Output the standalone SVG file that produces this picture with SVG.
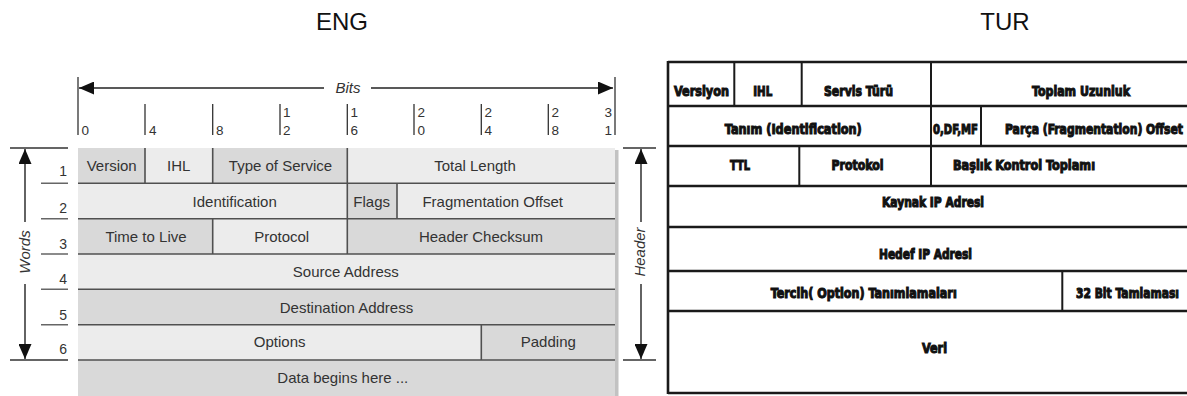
<svg xmlns="http://www.w3.org/2000/svg" width="1187" height="396" viewBox="0 0 1187 396">
  <defs>
    <style>
      .title { font-family: "Liberation Sans", Arial, sans-serif; font-size: 24px; fill: #111; text-anchor: middle; }
      .cell-dark { fill: #d9d9d9; }
      .cell-light { fill: #ececec; }
      .lbl { font-family: "Liberation Sans", Arial, sans-serif; font-size: 15px; fill: #333; text-anchor: middle; }
      .bit { font-family: "Liberation Sans", Arial, sans-serif; font-size: 13.5px; fill: #333; }
      .num { font-family: "Liberation Sans", Arial, sans-serif; font-size: 14px; fill: #333; text-anchor: end; }
      .axis { font-family: "Liberation Sans", Arial, sans-serif; font-size: 15px; font-style: italic; fill: #333; text-anchor: middle; }
      .sep { stroke: #505050; stroke-width: 1.6; fill: none; }
      .tick { stroke: #333; stroke-width: 1.3; fill: none; }
      .guide { stroke: #666; stroke-width: 1.4; fill: none; }
      .arrow { stroke: #222; stroke-width: 1.4; fill: none; marker-end: url(#head); }
      .tr { font-family: "DejaVu Sans Condensed", "DejaVu Sans", sans-serif; font-stretch: condensed; font-weight: bold; font-size: 11px; fill: #111; stroke: #111; stroke-width: 0.8; text-anchor: middle; }
      .tline { stroke: #1a1a1a; stroke-width: 2.6; fill: none; }
      .tdiv { stroke: #1a1a1a; stroke-width: 2; fill: none; }
    </style>
    <marker id="head" markerUnits="userSpaceOnUse" markerWidth="16" markerHeight="13" refX="15" refY="6.5" orient="auto">
      <path d="M0,0 L15,6.5 L0,13 Z" fill="#111"/>
    </marker>
  </defs>

  <rect width="1187" height="396" fill="#fff"/>

  <text class="title" x="342" y="30">ENG</text>
  <text class="title" x="1005" y="30">TUR</text>

  <!-- English IPv4 header layout -->
  <g id="eng-table">
    <!-- right-hand drop shadow -->
    <rect x="615" y="150" width="3.5" height="246" fill="#c2c2c2"/>

    <g id="eng-version"><rect class="cell-dark" x="78" y="148" width="67" height="35.3"/><text class="lbl" x="111.7" y="171">Version</text></g>
    <g id="eng-ihl"><rect class="cell-light" x="145" y="148" width="67.7" height="35.3"/><text class="lbl" x="178.7" y="171">IHL</text></g>
    <g id="eng-tos"><rect class="cell-dark" x="212.7" y="148" width="134.6" height="35.3"/><text class="lbl" x="280.5" y="171">Type of Service</text></g>
    <g id="eng-total-length"><rect class="cell-light" x="347.3" y="148" width="267.7" height="35.3"/><text class="lbl" x="475" y="171">Total Length</text></g>

    <g id="eng-identification"><rect class="cell-light" x="78" y="183.3" width="269.3" height="35.4"/><text class="lbl" x="234.7" y="206.5">Identification</text></g>
    <g id="eng-flags"><rect class="cell-dark" x="347.3" y="183.3" width="49.7" height="35.4"/><text class="lbl" x="371.7" y="206.5">Flags</text></g>
    <g id="eng-frag-offset"><rect class="cell-light" x="397" y="183.3" width="218" height="35.4"/><text class="lbl" x="492.7" y="206.5">Fragmentation Offset</text></g>

    <g id="eng-ttl"><rect class="cell-dark" x="78" y="218.7" width="134.7" height="35.3"/><text class="lbl" x="146" y="241.8">Time to Live</text></g>
    <g id="eng-protocol"><rect class="cell-light" x="212.7" y="218.7" width="134.6" height="35.3"/><text class="lbl" x="281.7" y="241.8">Protocol</text></g>
    <g id="eng-checksum"><rect class="cell-dark" x="347.3" y="218.7" width="267.7" height="35.3"/><text class="lbl" x="481" y="241.8">Header Checksum</text></g>

    <g id="eng-source"><rect class="cell-light" x="78" y="254" width="537" height="35.3"/><text class="lbl" x="345.8" y="277.3">Source Address</text></g>
    <g id="eng-destination"><rect class="cell-dark" x="78" y="289.3" width="537" height="35.4"/><text class="lbl" x="346.5" y="312.7">Destination Address</text></g>

    <g id="eng-options"><rect class="cell-light" x="78" y="324.7" width="403.3" height="35.3"/><text class="lbl" x="279.7" y="347">Options</text></g>
    <g id="eng-padding"><rect class="cell-dark" x="481.3" y="324.7" width="133.7" height="35.3"/><text class="lbl" x="548.3" y="347">Padding</text></g>

    <g id="eng-data"><rect class="cell-dark" x="78" y="360" width="537" height="36"/><text class="lbl" x="342.8" y="383">Data begins here ...</text></g>

    <!-- row separators and field dividers -->
    <g id="eng-grid">
      <path class="sep" d="M78,183.3H615 M78,218.7H615 M78,254H615 M78,289.3H615 M78,324.7H615 M78,360H615"/>
      <path class="sep" d="M145,148V183.3 M212.7,148V183.3 M347.3,148V183.3 M347.3,183.3V218.7 M397,183.3V218.7 M212.7,218.7V254 M347.3,218.7V254 M481.3,324.7V360"/>
    </g>

    <!-- bit scale -->
    <g id="eng-bit-scale">
      <path class="tick" d="M78,77V135 M615,77V135 M145,104V135 M212.7,104V135 M280,104V135 M347.3,104V135 M414,104V135 M481.3,104V135 M548.3,104V135"/>
      <text class="bit" x="81.5" y="135">0</text>
      <text class="bit" x="149" y="135">4</text>
      <text class="bit" x="216" y="135">8</text>
      <text class="bit" x="283" y="117">1</text><text class="bit" x="283" y="135">2</text>
      <text class="bit" x="350.5" y="117">1</text><text class="bit" x="350.5" y="135">6</text>
      <text class="bit" x="417.5" y="117">2</text><text class="bit" x="417.5" y="135">0</text>
      <text class="bit" x="484.5" y="117">2</text><text class="bit" x="484.5" y="135">4</text>
      <text class="bit" x="551.5" y="117">2</text><text class="bit" x="551.5" y="135">8</text>
      <text class="bit" x="612" y="117" text-anchor="end">3</text><text class="bit" x="612" y="135" text-anchor="end">1</text>
    </g>

    <!-- word numbering on the left -->
    <g id="eng-word-scale">
      <path class="tick" d="M10,148H68 M10,360H68"/>
      <path class="guide" d="M41,183.3H68 M41,218.7H68 M41,254H68 M41,289.3H68 M41,324.7H68"/>
      <text class="num" x="67" y="176">1</text>
      <text class="num" x="67" y="212.5">2</text>
      <text class="num" x="67" y="248.5">3</text>
      <text class="num" x="67" y="284">4</text>
      <text class="num" x="67" y="319.5">5</text>
      <text class="num" x="67" y="354">6</text>
    </g>

    <!-- header extent markers on the right -->
    <path class="tick" d="M623,148H656 M623,360H656"/>

    <text class="axis" x="348" y="93">Bits</text>
    <text class="axis" transform="translate(30,252) rotate(-90)">Words</text>
    <text class="axis" transform="translate(645,252) rotate(-90)">Header</text>
  </g>

  <!-- dimension arrows -->
  <g id="connectors">
    <line class="arrow" x1="324" y1="88" x2="79" y2="88"/>
    <line class="arrow" x1="371" y1="88" x2="613" y2="88"/>
    <line class="arrow" x1="25" y1="222" x2="25" y2="149"/>
    <line class="arrow" x1="25" y1="284" x2="25" y2="359"/>
    <line class="arrow" x1="641" y1="222" x2="641" y2="149"/>
    <line class="arrow" x1="641" y1="284" x2="641" y2="359"/>
  </g>

  <!-- Turkish IPv4 header layout -->
  <g id="tur-table">
    <rect x="668" y="62" width="530" height="331" fill="#fff"/>
    <g id="tur-grid">
      <path class="tline" d="M668,62H1190 M668,106H1190 M668,146H1190 M668,186H1190 M668,227H1190 M668,271H1190 M668,311H1190 M668,393H1190 M668,61V394"/>
      <path class="tdiv" d="M734.3,62V106 M801.7,62V106 M931,62V106 M931,106V146 M981,106V146 M799.3,146V186 M931,146V187 M1062.3,271V311"/>
    </g>

    <!-- tall condensed lettering: small font stretched vertically -->
    <g id="tur-versiyon"><text class="tr" transform="translate(701.5,96) scale(1,1.35)" textLength="55" lengthAdjust="spacingAndGlyphs">Versiyon</text></g>
    <g id="tur-ihl"><text class="tr" transform="translate(762.7,96) scale(1,1.35)" textLength="19" lengthAdjust="spacingAndGlyphs">IHL</text></g>
    <g id="tur-servis"><text class="tr" transform="translate(858.5,96) scale(1,1.35)" textLength="69" lengthAdjust="spacingAndGlyphs">Servis Türü</text></g>
    <g id="tur-toplam"><text class="tr" transform="translate(1081,96) scale(1,1.35)" textLength="98" lengthAdjust="spacingAndGlyphs">Toplam Uzunluk</text></g>

    <g id="tur-tanim"><text class="tr" transform="translate(793.3,133.5) scale(1,1.35)" textLength="137" lengthAdjust="spacingAndGlyphs">Tanım (Identification)</text></g>
    <g id="tur-flags"><text class="tr" transform="translate(955.5,133.5) scale(1,1.35)" textLength="45" lengthAdjust="spacingAndGlyphs">0,DF,MF</text></g>
    <g id="tur-parca"><text class="tr" transform="translate(1094,133.5) scale(1,1.35)" textLength="178" lengthAdjust="spacingAndGlyphs">Parça (Fragmentation) Offset</text></g>

    <g id="tur-ttl"><text class="tr" transform="translate(740,170) scale(1,1.35)" textLength="20" lengthAdjust="spacingAndGlyphs">TTL</text></g>
    <g id="tur-protokol"><text class="tr" transform="translate(857.5,170) scale(1,1.35)" textLength="52" lengthAdjust="spacingAndGlyphs">Protokol</text></g>
    <g id="tur-baslik"><text class="tr" transform="translate(1024,170) scale(1,1.35)" textLength="142" lengthAdjust="spacingAndGlyphs">Başlık Kontrol Toplamı</text></g>

    <g id="tur-kaynak"><text class="tr" transform="translate(933,206.5) scale(1,1.35)" textLength="102" lengthAdjust="spacingAndGlyphs">Kaynak IP Adresi</text></g>
    <g id="tur-hedef"><text class="tr" transform="translate(925.5,259.3) scale(1,1.35)" textLength="93" lengthAdjust="spacingAndGlyphs">Hedef IP Adresi</text></g>

    <g id="tur-tercih"><text class="tr" transform="translate(863.7,298.3) scale(1,1.35)" textLength="186" lengthAdjust="spacingAndGlyphs">Tercih( Option) Tanımlamaları</text></g>
    <g id="tur-tamlama"><text class="tr" transform="translate(1127.5,298.3) scale(1,1.35)" textLength="103" lengthAdjust="spacingAndGlyphs">32 Bit Tamlaması</text></g>

    <g id="tur-veri"><text class="tr" transform="translate(934.5,353.3) scale(1,1.35)" textLength="25" lengthAdjust="spacingAndGlyphs">Veri</text></g>
  </g>
</svg>
